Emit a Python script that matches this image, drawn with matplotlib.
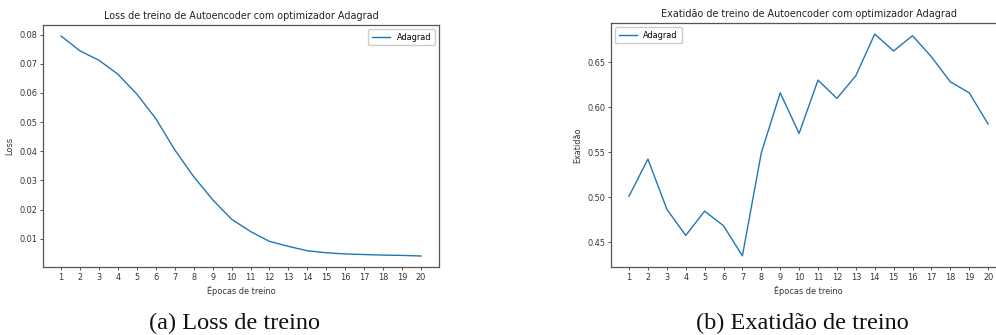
import matplotlib
matplotlib.use("Agg")
import matplotlib.pyplot as plt

# Training history of the autoencoder (Adagrad optimiser)
epochs = list(range(1, 21))
loss = [0.0795, 0.0744, 0.0712, 0.0664, 0.0596, 0.0512, 0.0405, 0.0313,
        0.0234, 0.0167, 0.0125, 0.0091, 0.0074, 0.0059, 0.0052, 0.0048,
        0.0046, 0.0044, 0.0043, 0.0041]
accuracy = [0.5014, 0.5426, 0.4870, 0.4578, 0.4848, 0.4686, 0.4351, 0.5495,
            0.6162, 0.5711, 0.6303, 0.6100, 0.6351, 0.6814, 0.6626, 0.6796,
            0.6562, 0.6284, 0.6162, 0.5815]
loss_ticks = [0.01, 0.02, 0.03, 0.04, 0.05, 0.06, 0.07, 0.08]
acc_ticks = [0.45, 0.50, 0.55, 0.60, 0.65]
series_name = "Adagrad"
xlabel = "Épocas de treino"

line_color = "#1f77b4"
spine_color = "#555555"
tick_fs = 5.9
title_fs = 6.9

fig = plt.figure(figsize=(9.96, 3.35), dpi=100)
ax1 = fig.add_axes([0.0432, 0.203, 0.3976, 0.7224])
ax2 = fig.add_axes([0.6135, 0.203, 0.3966, 0.7284])


def style(ax):
    for s in ax.spines.values():
        s.set_color(spine_color)
        s.set_linewidth(0.9)
    ax.tick_params(labelsize=tick_fs, length=2, width=0.6,
                   colors="#333333", pad=2)


ax1.plot(epochs, loss, color=line_color, lw=1.0, label=series_name)
ax1.set_xticks(epochs)
ax1.set_yticks(loss_ticks)
ax1.set_yticklabels([f"{v:.2f}" for v in loss_ticks])
ax1.set_title("Loss de treino de Autoencoder com optimizador Adagrad",
              fontsize=title_fs, pad=4, color="#222222")
ax1.set_xlabel(xlabel, fontsize=tick_fs, labelpad=3, color="#333333")
ax1.set_ylabel("Loss", fontsize=tick_fs, labelpad=4, color="#333333")
ax1.legend(loc="upper right", fontsize=tick_fs, handlelength=2.2,
           borderpad=0.45, framealpha=1)
style(ax1)

ax2.plot(epochs, accuracy, color=line_color, lw=1.0, label=series_name)
ax2.set_xticks(epochs)
ax2.set_yticks(acc_ticks)
ax2.set_yticklabels([f"{v:.2f}" for v in acc_ticks])
ax2.set_title("Exatidão de treino de Autoencoder com optimizador Adagrad",
              fontsize=title_fs, pad=4, color="#222222")
ax2.set_xlabel(xlabel, fontsize=tick_fs, labelpad=3, color="#333333")
ax2.set_ylabel("Exatidão", fontsize=tick_fs, labelpad=4, color="#333333")
ax2.legend(loc="upper left", fontsize=tick_fs, handlelength=2.2,
           borderpad=0.45, framealpha=1)
style(ax2)

# Sub-figure captions
fig.text(234.5 / 996, 0.035, "(a) Loss de treino", ha="center", va="center",
         fontsize=17.5, family="Liberation Serif", color="#111111")
fig.text(802 / 996, 0.035, "(b) Exatidão de treino", ha="center", va="center",
         fontsize=17.5, family="Liberation Serif", color="#111111")

fig.savefig("out.png", dpi=100)
